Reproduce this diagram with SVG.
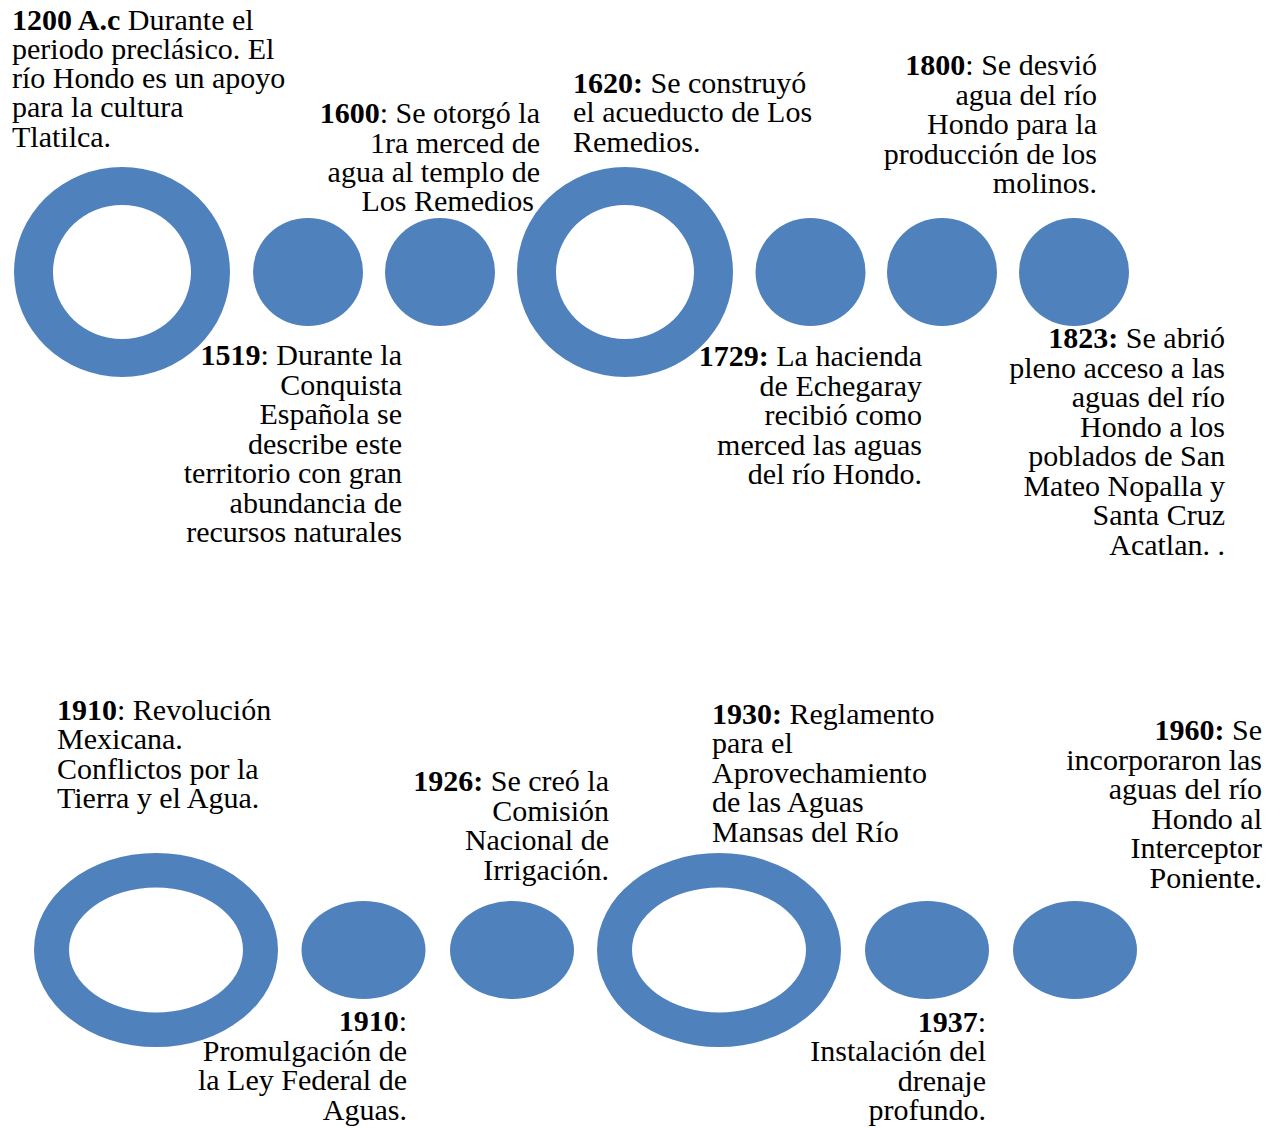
<svg xmlns="http://www.w3.org/2000/svg" width="1280" height="1128" viewBox="0 0 1280 1128">
<style>
.sh{fill:#4F81BD;fill-rule:evenodd}
text{font-family:"Liberation Serif","Times New Roman",serif;font-size:30px;fill:#000}
.b{font-weight:bold}
.r{text-anchor:end}
</style>
<rect width="1280" height="1128" fill="#fff"/>
<g id="top-row">
<g id="ring-1200"><path class="sh" d="M14,272a108,105 0 1,0 216,0a108,105 0 1,0 -216,0Z M53,272a69,67 0 1,0 138,0a69,67 0 1,0 -138,0Z"/></g>
<g id="dot-1519"><ellipse class="sh" cx="308" cy="272" rx="55" ry="54"/></g>
<g id="dot-1600"><ellipse class="sh" cx="440" cy="272" rx="55" ry="54"/></g>
<g id="ring-1620"><path class="sh" d="M517,272a108,105 0 1,0 216,0a108,105 0 1,0 -216,0Z M556,272a69,67 0 1,0 138,0a69,67 0 1,0 -138,0Z"/></g>
<g id="dot-1729"><ellipse class="sh" cx="810.5" cy="272" rx="55" ry="54"/></g>
<g id="dot-1800"><ellipse class="sh" cx="942" cy="272" rx="55" ry="54"/></g>
<g id="dot-1823"><ellipse class="sh" cx="1074" cy="272" rx="55" ry="54"/></g>
</g>
<g id="bottom-row">
<g id="ring-1910a"><path class="sh" d="M34,950a122,97 0 1,0 244,0a122,97 0 1,0 -244,0Z M69,950a87,62.5 0 1,0 174,0a87,62.5 0 1,0 -174,0Z"/></g>
<g id="dot-1910b"><ellipse class="sh" cx="363.5" cy="950" rx="62" ry="49"/></g>
<g id="dot-1926"><ellipse class="sh" cx="512" cy="950" rx="62" ry="49"/></g>
<g id="ring-1930"><path class="sh" d="M597,950a122,97 0 1,0 244,0a122,97 0 1,0 -244,0Z M632,950a87,62.5 0 1,0 174,0a87,62.5 0 1,0 -174,0Z"/></g>
<g id="dot-1937"><ellipse class="sh" cx="927" cy="950" rx="62" ry="49"/></g>
<g id="dot-1960"><ellipse class="sh" cx="1075" cy="950" rx="62" ry="49"/></g>
</g>
<g id="connectors"/>
<g id="label-1200">
<text x="12" y="29.5"><tspan class="b">1200 A.c</tspan> Durante el</text>
<text x="12" y="58.5">periodo preclásico. El</text>
<text x="12" y="88">río Hondo es un apoyo</text>
<text x="12" y="117">para la cultura</text>
<text x="12" y="146.5">Tlatilca.</text>
</g>
<g id="label-1600">
<text x="540" y="123" class="r"><tspan class="b">1600</tspan>: Se otorgó la</text>
<text x="540" y="152.5" class="r">1ra merced de</text>
<text x="540" y="182" class="r">agua al templo de</text>
<text x="534" y="211" class="r">Los Remedios</text>
</g>
<g id="label-1519">
<text x="402" y="365" class="r"><tspan class="b">1519</tspan>: Durante la</text>
<text x="402" y="394.5" class="r">Conquista</text>
<text x="402" y="424" class="r">Española se</text>
<text x="402" y="453.5" class="r">describe este</text>
<text x="402" y="483" class="r">territorio con gran</text>
<text x="402" y="512.5" class="r">abundancia de</text>
<text x="402" y="542" class="r">recursos naturales</text>
</g>
<g id="label-1620">
<text x="573" y="93"><tspan class="b">1620:</tspan> Se construyó</text>
<text x="573" y="122">el acueducto de Los</text>
<text x="573" y="151.5">Remedios.</text>
</g>
<g id="label-1800">
<text x="1097" y="75" class="r"><tspan class="b">1800</tspan>: Se desvió</text>
<text x="1097" y="104.5" class="r">agua del río</text>
<text x="1097" y="134" class="r">Hondo para la</text>
<text x="1097" y="163.5" class="r">producción de los</text>
<text x="1097" y="193" class="r">molinos.</text>
</g>
<g id="label-1729">
<text x="922" y="366" class="r"><tspan class="b">1729:</tspan> La hacienda</text>
<text x="922" y="395.5" class="r">de Echegaray</text>
<text x="922" y="425" class="r">recibió como</text>
<text x="922" y="454.5" class="r">merced las aguas</text>
<text x="922" y="484" class="r">del río Hondo.</text>
</g>
<g id="label-1823">
<text x="1225" y="348" class="r"><tspan class="b">1823:</tspan> Se abrió</text>
<text x="1225" y="377.5" class="r">pleno acceso a las</text>
<text x="1225" y="407" class="r">aguas del río</text>
<text x="1225" y="436.5" class="r">Hondo a los</text>
<text x="1225" y="466" class="r">poblados de San</text>
<text x="1225" y="495.5" class="r">Mateo Nopalla y</text>
<text x="1225" y="525" class="r">Santa Cruz</text>
<text x="1225" y="554.5" class="r">Acatlan. .</text>
</g>
<g id="label-1910a">
<text x="57" y="719.5"><tspan class="b">1910</tspan>: Revolución</text>
<text x="57" y="749">Mexicana.</text>
<text x="57" y="778.5">Conflictos por la</text>
<text x="57" y="808">Tierra y el Agua.</text>
</g>
<g id="label-1926">
<text x="609" y="791" class="r"><tspan class="b">1926:</tspan> Se creó la</text>
<text x="609" y="820.5" class="r">Comisión</text>
<text x="609" y="850" class="r">Nacional de</text>
<text x="609" y="879.5" class="r">Irrigación.</text>
</g>
<g id="label-1910b">
<text x="407" y="1031" class="r"><tspan class="b">1910</tspan>:</text>
<text x="407" y="1060.5" class="r">Promulgación de</text>
<text x="407" y="1090" class="r">la Ley Federal de</text>
<text x="407" y="1119.5" class="r">Aguas.</text>
</g>
<g id="label-1930">
<text x="712" y="723.5"><tspan class="b">1930:</tspan> Reglamento</text>
<text x="712" y="753">para el</text>
<text x="712" y="782.5">Aprovechamiento</text>
<text x="712" y="812">de las Aguas</text>
<text x="712" y="841.5">Mansas del Río</text>
</g>
<g id="label-1960">
<text x="1262" y="740" class="r"><tspan class="b">1960:</tspan> Se</text>
<text x="1262" y="769.5" class="r">incorporaron las</text>
<text x="1262" y="799" class="r">aguas del río</text>
<text x="1262" y="828.5" class="r">Hondo al</text>
<text x="1262" y="858" class="r">Interceptor</text>
<text x="1262" y="887.5" class="r">Poniente.</text>
</g>
<g id="label-1937">
<text x="986" y="1031.5" class="r"><tspan class="b">1937</tspan>:</text>
<text x="986" y="1061" class="r">Instalación del</text>
<text x="986" y="1090.5" class="r">drenaje</text>
<text x="986" y="1120" class="r">profundo.</text>
</g>
</svg>
